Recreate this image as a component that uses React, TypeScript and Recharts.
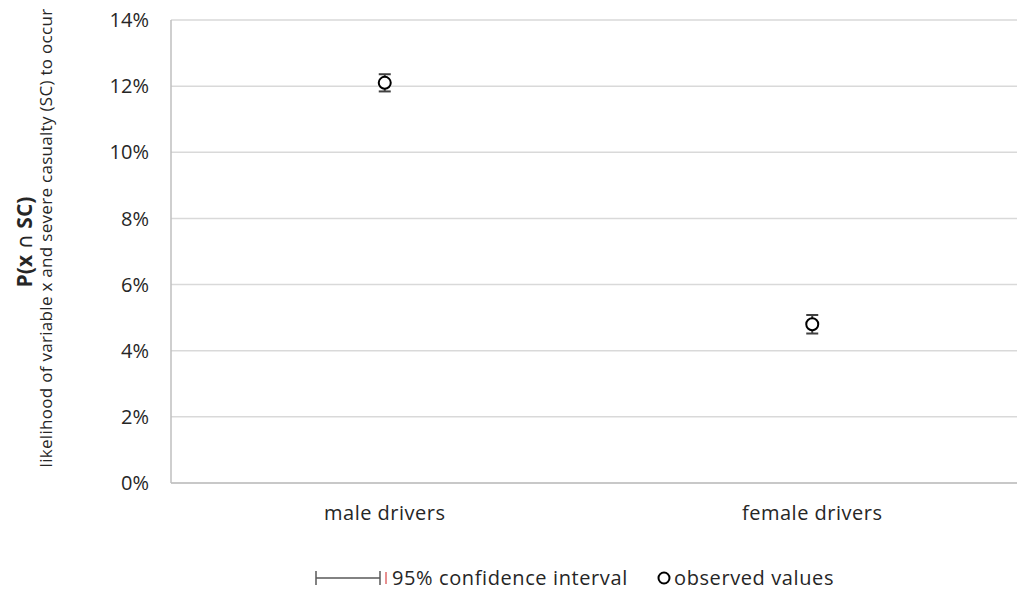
import {
  CartesianGrid,
  ComposedChart,
  ErrorBar,
  Scatter,
  XAxis,
  YAxis,
} from 'recharts'

const categories = ['male drivers', 'female drivers']
const observed = [12.1, 4.8]
const ciHalfWidth = [0.26, 0.28]
const yTicks = [0, 2, 4, 6, 8, 10, 12, 14]

const data = categories.map((name, i) => ({
  name,
  value: observed[i],
  ci: ciHalfWidth[i],
}))

const FONT = '"Open Sans", sans-serif'
const TEXT = '#262626'
const AXIS = '#bfbfbf'

function OpenCircle(props: any) {
  const { cx, cy } = props
  return <circle cx={cx} cy={cy} r={6} fill="#fff" stroke="#000" strokeWidth={2} />
}

function YTitle() {
  return (
    <g>
      <text
        transform="translate(32, 242) rotate(-90)"
        textAnchor="middle"
        fontFamily={FONT}
        fontSize={21}
        fontWeight={700}
        fill={TEXT}
      >
        P(x <tspan fontFamily="DejaVu Sans" fontWeight={400}>∩</tspan> SC)
      </text>
      <text
        transform="translate(52, 238) rotate(-90)"
        textAnchor="middle"
        fontFamily={FONT}
        fontSize={17}
        letterSpacing={0.3}
        fill={TEXT}
      >
        likelihood of variable x and severe casualty (SC) to occur
      </text>
    </g>
  )
}

function LegendRow() {
  return (
    <div
      style={{
        position: 'absolute',
        left: 0,
        top: 566,
        width: 1017,
        height: 24,
        fontFamily: FONT,
        fontSize: 20,
        letterSpacing: 0.6,
        color: TEXT,
      }}
    >
      <svg width={80} height={24} style={{ position: 'absolute', left: 312, top: 0 }}>
        <line x1={4} y1={12} x2={68} y2={12} stroke="#595959" strokeWidth={1.5} />
        <line x1={4} y1={5} x2={4} y2={19} stroke="#595959" strokeWidth={1.5} />
        <line x1={68} y1={5} x2={68} y2={19} stroke="#595959" strokeWidth={1.5} />
        <line x1={74} y1={6} x2={74} y2={18} stroke="#d02020" strokeWidth={1} />
      </svg>
      <span style={{ position: 'absolute', left: 392, top: 0, lineHeight: '24px' }}>
        95% confidence interval
      </span>
      <svg width={16} height={24} style={{ position: 'absolute', left: 656, top: 0 }}>
        <circle cx={8} cy={12} r={5.5} fill="#fff" stroke="#000" strokeWidth={2} />
      </svg>
      <span style={{ position: 'absolute', left: 674, top: 0, lineHeight: '24px' }}>
        observed values
      </span>
    </div>
  )
}

export default function App() {
  return (
    <div
      style={{
        position: 'absolute',
        left: 0,
        top: 0,
        width: 1017,
        height: 592,
        overflow: 'hidden',
        background: '#fff',
      }}
    >
      <ComposedChart
        width={1030}
        height={592}
        data={data}
        margin={{ top: 20, right: 4, bottom: 0, left: 0 }}
      >
        <CartesianGrid vertical={false} stroke="#d9d9d9" strokeWidth={1.5} />
        <XAxis
          dataKey="name"
          scale="band"
          height={109}
          tickLine={false}
          tickMargin={17}
          axisLine={{ stroke: AXIS, strokeWidth: 1.5 }}
          tick={{ fontSize: 20, fill: TEXT, fontFamily: FONT, letterSpacing: 0.5 }}
        />
        <YAxis
          width={171}
          domain={[0, 14]}
          ticks={yTicks}
          tickFormatter={(v: number) => `${v}%`}
          tickLine={false}
          tickMargin={16}
          axisLine={{ stroke: AXIS, strokeWidth: 1.5 }}
          tick={{ fontSize: 20, fill: TEXT, fontFamily: FONT }}
          label={{ content: () => <YTitle /> }}
        />
        <Scatter dataKey="value" shape={OpenCircle} isAnimationActive={false}>
          <ErrorBar
            dataKey="ci"
            direction="y"
            width={6}
            stroke="#404040"
            strokeWidth={2}
            isAnimationActive={false}
          />
        </Scatter>
      </ComposedChart>
      <LegendRow />
    </div>
  )
}
